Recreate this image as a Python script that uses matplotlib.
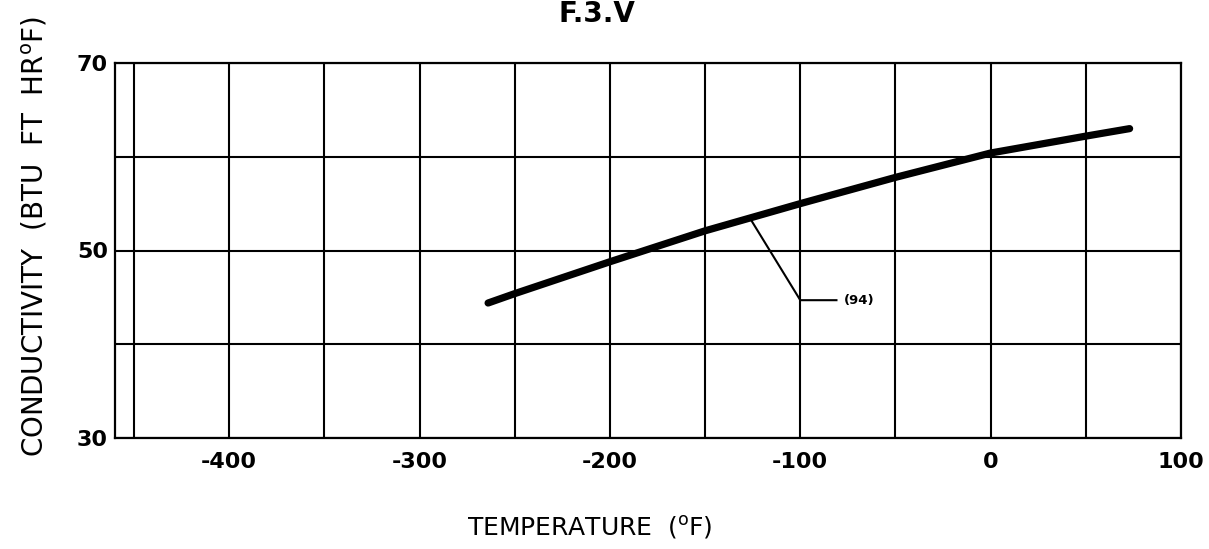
import matplotlib
matplotlib.use("Agg")
import matplotlib.pyplot as plt
from matplotlib.ticker import FixedLocator

plt.rcParams['axes.unicode_minus'] = False
plt.rcParams['font.family'] = ['DejaVu Sans']

# Data
temperature = [-264, -250, -200, -150, -100, -50, 0, 50, 73]
conductivity = [44.4, 45.4, 48.8, 52.1, 55.0, 57.8, 60.4, 62.2, 63.0]

x_ticks = [-400, -300, -200, -100, 0, 100]
x_minor = [-450, -350, -250, -150, -50, 50]
y_ticks = [30, 50, 70]
y_minor = [40, 60]

leader_x = [-126, -100, -81]
leader_y = [53.3, 44.7, 44.7]
label_text = "(94)"

fig = plt.figure(figsize=(12.09, 5.49), dpi=100)
ax = fig.add_axes([115/1209, 1 - 438/549, (1181 - 115)/1209, (438 - 63)/549])

ax.set_xlim(-460, 100)
ax.set_ylim(30, 70)

ax.xaxis.set_major_locator(FixedLocator(x_ticks))
ax.xaxis.set_minor_locator(FixedLocator(x_minor))
ax.yaxis.set_major_locator(FixedLocator(y_ticks))
ax.yaxis.set_minor_locator(FixedLocator(y_minor))

ax.grid(True, which='both', color='black', linewidth=1.5)
ax.set_axisbelow(True)
for s in ax.spines.values():
    s.set_linewidth(1.6)

ax.tick_params(which='both', length=0)
ax.tick_params(axis='x', pad=10, labelsize=16)
ax.tick_params(axis='y', pad=5, labelsize=16)
for lbl in ax.get_xticklabels() + ax.get_yticklabels():
    lbl.set_fontweight('bold')

ax.plot(temperature, conductivity, color='black', linewidth=5.2,
        solid_capstyle='round', solid_joinstyle='round', zorder=3)
ax.plot(leader_x, leader_y, color='black', linewidth=1.5, zorder=3)
ax.text(-77, 44.7, label_text, fontsize=9.5, fontweight='bold', va='center', ha='left')

fig.text(597/1209, 1 - 22/549, "F.3.V", fontsize=20, fontweight='bold',
         ha='center', va='baseline')
fig.text(590/1209, 1 - 527/549, "TEMPERATURE  ($^{\\mathrm{o}}$F)", fontsize=18,
         ha='center', va='center')
fig.text(35/1209, 1 - 457/549, "CONDUCTIVITY  (BTU  FT  HR$^{\\mathrm{o}}$F)",
         fontsize=20, rotation=90, ha='center', va='bottom')

fig.savefig("out.png", dpi=100, facecolor='white')
